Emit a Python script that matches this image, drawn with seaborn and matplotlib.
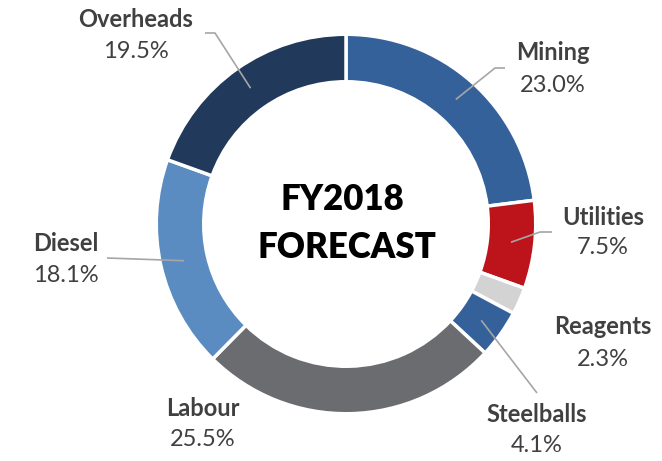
import matplotlib
matplotlib.use("Agg")
import matplotlib.pyplot as plt
import seaborn as sns
import numpy as np

# Cost breakdown, FY2018 forecast
categories = ["Mining", "Utilities", "Reagents", "Steelballs", "Labour", "Diesel", "Overheads"]
shares = [23.0, 7.5, 2.3, 4.1, 25.5, 18.1, 19.5]
colors = ["#35619a", "#bd141c", "#d3d3d3", "#35619a", "#6b6c70", "#5a8cc1", "#213a5b"]
center_title = ["FY2018", "FORECAST"]

sns.set_theme(style="white")
plt.rcParams["font.family"] = ["Lato", "DejaVu Sans"]

W, H = 662, 461
fig = plt.figure(figsize=(W / 100, H / 100), dpi=100)
ax = fig.add_axes([0, 0, 1, 1])


def Y(y):
    # convert a top-down pixel row into axis units
    return H - y


cx, cy = 346, Y(224)
edge_lw = 2.5
edge_px = edge_lw * 100 / 72
r_out = 188 + edge_px / 2
r_in = 144 - edge_px / 2

wedges, _ = ax.pie(
    shares,
    colors=colors,
    startangle=90,
    counterclock=False,
    center=(cx, cy),
    radius=r_out,
    wedgeprops=dict(width=r_out - r_in, edgecolor="white", linewidth=edge_lw),
)
ax.set_xlim(0, W)
ax.set_ylim(0, H)
ax.set_aspect("equal")
ax.axis("off")

# label placement: (name centre, value centre, leader elbow/end points)
layout = {
    "Mining":     ((553, 53), (553, 86), [(495, 68), (505, 68)]),
    "Utilities":  ((603, 218), (603, 248), [(540, 232), (552, 232)]),
    "Reagents":   ((603, 327), (603, 359), None),
    "Steelballs": ((537, 415), (537, 446), [(537, 393)]),
    "Labour":     ((203, 409), (203, 440), None),
    "Diesel":     ((66, 244), (66, 276), [(107, 258)]),
    "Overheads":  ((136, 20), (136, 52), [(215, 33), (205, 33)]),
}

r_mid = 166
text_color = "#404040"
for w, name, val in zip(wedges, categories, shares):
    (nx, ny), (vx, vy), leader = layout[name]
    ax.text(nx, Y(ny), name, ha="center", va="center", fontsize=17,
            fontweight="bold", color=text_color)
    ax.text(vx, Y(vy), f"{val:.1f}%", ha="center", va="center", fontsize=17,
            color=text_color)
    if leader:
        mid = np.deg2rad((w.theta1 + w.theta2) / 2)
        px = [cx + r_mid * np.cos(mid)] + [p[0] for p in leader]
        py = [cy + r_mid * np.sin(mid)] + [Y(p[1]) for p in leader]
        ax.plot(px, py, color="#a6a6a6", lw=1.2, solid_capstyle="butt", zorder=5)

ax.text(342, Y(200), center_title[0], ha="center", va="center", fontsize=25,
        fontweight="heavy", color="black")
ax.text(347, Y(248), center_title[1], ha="center", va="center", fontsize=25,
        fontweight="heavy", color="black")

fig.savefig("out.png", dpi=100, facecolor="white")
